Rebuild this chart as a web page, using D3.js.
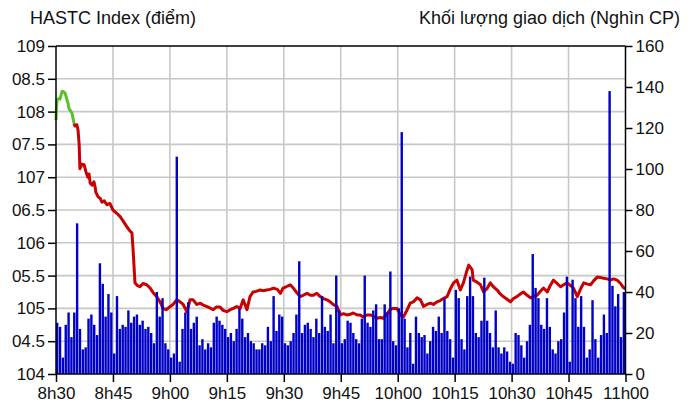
<!DOCTYPE html>
<html><head><meta charset="utf-8">
<script src="https://cdn.jsdelivr.net/npm/d3@7"></script>
<style>
html,body{margin:0;padding:0;background:#fff;}
svg{display:block;}
text{font-family:"Liberation Sans",Arial,sans-serif;fill:#111;}
</style></head>
<body>
<svg id="chart" width="695" height="405"></svg>
<script>
// ---- data ----
const timeLabels = ["8h30","8h45","9h00","9h15","9h30","9h45","10h00","10h15","10h30","10h45","11h00"];
const timeTicks = [0,15,30,45,60,75,90,105,120,135,150]; // minutes after 8h30
const leftTicks = [104,104.5,105,105.5,106,106.5,107,107.5,108,108.5,109];
const leftTickLabels = ["104","04.5","105","05.5","106","06.5","107","07.5","108","08.5","109"];
const rightTicks = [0,20,40,60,80,100,120,140,160];
const refValue = 107.85; // previous close (green above, red below)
const barStep = 0.75; // minutes per volume bar

// trading volume (thousand shares), one bar per interval
const volumes = [
 25,23,8,24,30,18,30,73.5,22,12, 13,27,29,24,19,54,44,28,39,30,
 10,38,22,24,23,31,25,28,29,24, 26,22,23,20,15,40,28,37,15,12,
 8,10,106,6,22,30,35,22,25,28, 14,17,12,15,13,25,28,26,24,22,
 18,20,16,22,32,27,18,20,16,15, 12,12,15,14,23,16,38,21,29,28,
 15,14,16,20,29,55,20,24,25,22, 18,27,20,38,23,21,29,15,48,31,
 15,17,26,25,20,17,15,27,48,25, 23,31,34,17,17,34,30,50,16,14,
 32,118,27,13,20,5,28,20,18,19, 10,16,23,21,28,20,37,21,17,8,
 41,37,17,12,38,47.5,38,20,18,26, 47,26,20,13,31,13,10,13,11,6,
 5,20,19,14,8,16,24,58.5,42,37, 24,22,37,23,12,10,16,17,30,47.5,
 6,46,37,23,38,23,8,12,36,17, 8,19,29,20,138,43,33,39,18,40
];

// HASTC index trace: minutes after 8h30 and points
const indexMinutes = [
 0,0.26,0.8,1.05,1.6,2.1,2.4,2.9,3.2,3.4,3.95,4.2,4.75,
 5.0,5.5,5.8,6.1,6.3,6.85,7.4,7.9,8.4,8.7,9.0,9.5,10.0,10.3,10.5,11.1,11.6,12.1,12.7,13.4,14.2,15.0,16.0,16.9,17.7,18.6,19.2,20.0,20.3,20.8,21.4,22.1,22.9,23.9,24.8,25.6,26.5,27.4,28.2,29.0,
 30.1,30.8,31.8,32.7,33.5,34.5,35.3,36.1,37.1,38.0,38.8,40.1,41.4,42.2,43.2,44.0,45.0,45.9,46.7,47.6,48.5,49.3,50.3,51.1,51.9,52.7,53.8,54.6,55.5,56.4,57.3,58.3,59.1,59.8,
 60.6,61.7,62.5,63.3,64.3,65.1,66.1,67.0,67.8,68.7,69.6,70.4,71.4,72.2,73.0,74.0,74.9,75.7,76.6,77.5,78.3,79.3,80.1,80.9,81.9,82.8,83.6,84.5,85.4,86.2,87.2,88.0,88.8,89.8,
 90.7,91.5,92.5,93.3,94.1,95.1,96.0,96.8,97.7,98.6,99.4,100.4,101.2,102.0,103.0,103.9,104.7,105.6,106.5,107.3,108.1,108.7,109.6,109.9,110.9,111.8,112.6,113.5,114.4,115.2,116.2,117.0,117.8,118.8,119.7,
 120.5,121.4,122.3,123.1,124.1,125.0,125.7,126.7,127.6,128.4,129.4,130.2,131.0,132.0,132.9,133.7,134.6,135.5,136.3,137.3,138.2,139.0,140.0,140.8,141.6,142.6,143.4,144.2,145.2,146.0,146.8,147.8,148.7,149.4,150
];
const indexValues = [
 107.87,108.18,108.2,108.19,108.31,108.3,108.28,108.18,108.12,108.05,108.0,107.98,107.82,
 107.78,107.8,107.72,107.5,107.13,107.2,107.19,107.08,107.0,107.05,106.91,106.88,106.93,106.85,106.77,106.70,106.68,106.62,106.64,106.58,106.6,106.5,106.45,106.4,106.33,106.25,106.2,106.15,105.9,105.39,105.35,105.33,105.38,105.36,105.31,105.24,105.18,105.1,105.0,104.98,
 105.03,105.06,105.13,105.1,105.06,104.95,105.13,105.13,105.06,105.08,105.05,105.02,104.98,105.02,105.02,104.97,104.95,104.98,105.0,105.03,105.0,105.13,104.98,105.18,105.25,105.26,105.28,105.27,105.28,105.29,105.31,105.29,105.23,105.31,
 105.33,105.36,105.31,105.25,105.18,105.2,105.23,105.2,105.2,105.23,105.18,105.15,105.13,105.1,105.06,105.03,104.9,104.92,104.9,104.91,104.93,104.9,104.9,104.87,104.9,104.9,104.88,104.85,104.86,104.85,104.92,104.98,105.0,105.0,
 104.9,104.87,104.98,105.08,105.1,105.16,105.13,105.03,105.06,105.08,105.06,105.1,105.12,105.15,105.18,105.3,105.39,105.43,105.28,105.39,105.55,105.66,105.59,105.43,105.4,105.36,105.25,105.3,105.39,105.33,105.28,105.22,105.18,105.14,105.1,
 105.15,105.18,105.22,105.25,105.2,105.16,105.18,105.2,105.26,105.31,105.25,105.35,105.43,105.38,105.33,105.36,105.39,105.35,105.31,105.18,105.3,105.39,105.37,105.36,105.42,105.48,105.47,105.46,105.45,105.43,105.45,105.43,105.38,105.32,105.3
];

// ---- drawing ----
const svg = d3.select("#chart");
const L = 56, R = 625.5, T = 46, B = 374;
const x = d3.scaleLinear().domain([0,150]).range([L,R]);
const yL = d3.scaleLinear().domain([104,109]).range([B,T]);
const yR = d3.scaleLinear().domain([0,160]).range([B,T]);

// grid
const grid = svg.append("g");
grid.selectAll("line.v").data(timeTicks.slice(1,-1)).enter().append("line")
  .attr("x1",d=>x(d)).attr("x2",d=>x(d)).attr("y1",T).attr("y2",B)
  .attr("stroke","#c8c8c8").attr("stroke-width",1.6);
grid.selectAll("line.h").data(leftTicks.slice(1,-1)).enter().append("line")
  .attr("x1",L).attr("x2",R).attr("y1",d=>yL(d)).attr("y2",d=>yL(d))
  .attr("stroke","#c8c8c8").attr("stroke-width",1.6);

// index line, coloured by position relative to reference
const pts = indexMinutes.map((m,i)=>({m, v:indexValues[i]}));
const segs = [];
for (let i=0;i<pts.length-1;i++){
  segs.push({a:pts[i], b:pts[i+1], up: pts[i].v >= refValue && pts[i+1].v >= refValue - 0.05});
}
const runs = [];
segs.forEach(s=>{
  const last = runs[runs.length-1];
  if (last && last.up===s.up) last.pts.push(s.b);
  else runs.push({up:s.up, pts:[s.a, s.b]});
});
const line = d3.line().x(d=>x(d.m)).y(d=>yL(d.v));
svg.append("g").selectAll("path").data(runs).enter().append("path")
  .attr("d",d=>line(d.pts)).attr("fill","none")
  .attr("stroke",d=>d.up?"#5cc02c":"#c80000").attr("stroke-width",3)
  .attr("stroke-linejoin","round");

// volume bars
const bw = x(barStep)-x(0);
svg.append("g").selectAll("rect").data(volumes).enter().append("rect")
  .attr("x",(d,i)=>x(i*barStep))
  .attr("width",bw-0.45)
  .attr("y",d=>yR(d)).attr("height",d=>B-yR(d))
  .attr("fill","#0000c8");

// frame / axes
const ax = svg.append("g").attr("stroke","#000").attr("stroke-width",1.5);
ax.append("line").attr("x1",L).attr("x2",R).attr("y1",T).attr("y2",T);
ax.append("line").attr("x1",L).attr("x2",R).attr("y1",B).attr("y2",B);
ax.append("line").attr("x1",L).attr("x2",L).attr("y1",T).attr("y2",B);
ax.append("line").attr("x1",R).attr("x2",R).attr("y1",T).attr("y2",B);

const leftAxis = d3.axisLeft(yL).tickValues(leftTicks).tickSize(8).tickPadding(3)
  .tickFormat((d,i)=>leftTickLabels[i]);
const gl = svg.append("g").attr("transform",`translate(${L},0)`).call(leftAxis);
const rightAxis = d3.axisRight(yR).tickValues(rightTicks).tickSize(7).tickPadding(3);
const gr = svg.append("g").attr("transform",`translate(${R},0)`).call(rightAxis);
const bottomAxis = d3.axisBottom(x).tickValues(timeTicks).tickSize(8).tickPadding(5)
  .tickFormat((d,i)=>timeLabels[i]);
const gb = svg.append("g").attr("transform",`translate(0,${B})`).call(bottomAxis);
[gl,gr,gb].forEach(g=>{
  g.select(".domain").remove();
  g.selectAll(".tick line").attr("stroke","#000").attr("stroke-width",1.5);
  g.selectAll(".tick text").attr("font-size",17).attr("fill","#111")
    .attr("font-family","'Liberation Sans',Arial,sans-serif");
});

// titles
svg.append("text").attr("x",30).attr("y",24).attr("font-size",18).text("HASTC Index (điểm)");
svg.append("text").attr("x",680).attr("y",24).attr("font-size",18).attr("text-anchor","end")
  .text("Khối lượng giao dịch (Nghìn CP)");
</script>
</body></html>
